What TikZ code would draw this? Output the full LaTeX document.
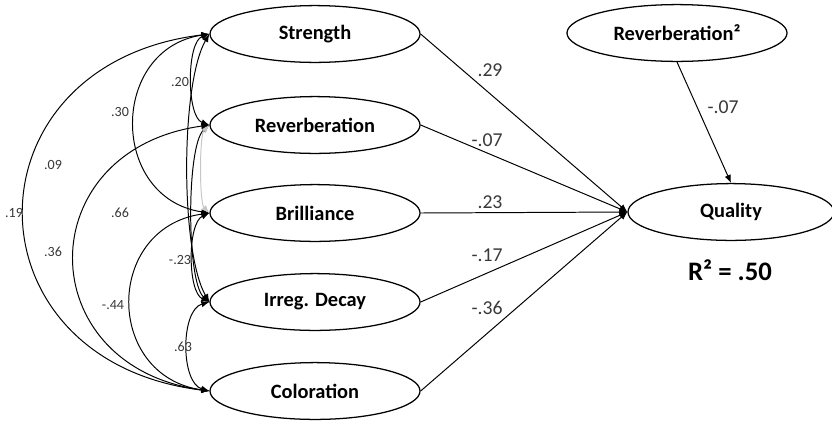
\documentclass[tikz,border=0pt]{standalone}
\usepackage{fontspec}
\setmainfont{Carlito}
\usetikzlibrary{shapes.geometric,arrows.meta}
\definecolor{numgray}{rgb}{0.22,0.22,0.22}
\begin{document}
\begin{tikzpicture}[x=0.025cm,y=-0.025cm,
  latent/.style={draw,ellipse,line width=0.9pt,inner sep=0pt,minimum width=5.25cm,minimum height=1.42cm,font=\fontsize{14.5}{16}\selectfont\bfseries},
  path/.style={line width=0.7pt,-{Latex[length=2mm,width=1.6mm]}},
  cov/.style={line width=0.7pt,{Latex[length=2mm,width=1.6mm]}-{Latex[length=2mm,width=1.6mm]}},
  coef/.style={font=\fontsize{14}{16}\selectfont,text=numgray},
  corr/.style={font=\fontsize{10}{12}\selectfont,text=numgray}]
\useasboundingbox (0,0) rectangle (832,422);

\coordinate (str) at (315,34);
\coordinate (rev) at (315,125);
\coordinate (bri) at (315,213);
\coordinate (irr) at (315,302);
\coordinate (col) at (315,391);
\coordinate (revsq) at (677,33);
\coordinate (qua) at (731,212);


\node[latent] (str) at (str){Strength};
\node[latent] (rev) at (rev){Reverberation};
\node[latent] (bri) at (bri){Brilliance};
\node[latent] (irr) at (irr){Irreg. Decay};
\node[latent] (col) at (col){Coloration};
\node[latent,minimum width=5.5cm] (revsq) at (revsq){Reverberation²};
\node[latent,minimum width=5.15cm] (qua) at (qua){Quality};
\node[font=\fontsize{19}{22}\selectfont\bfseries] (rsq) at (730,270){R² = .50};

% paths into quality
\draw[path] (str.east)--(qua.west);
\draw[path] (rev.east)--(qua.west);
\draw[path] (bri.east)--(qua.west);
\draw[path] (irr.east)--(qua.west);
\draw[path] (col.east)--(qua.west);
\draw[path] (revsq.south)--(qua.north);

\node[coef] (c1) at (490,70){.29};
\node[coef] (c2) at (487,140){-.07};
\node[coef] (c3) at (490,202){.23};
\node[coef] (c4) at (487,255){-.17};
\node[coef] (c5) at (487,308){-.36};
\node[coef] (c6) at (723,107){-.07};

% covariances
\draw[cov] (str.west) .. controls +(-247,30) and +(-247,-30) .. (col.west);
\draw[cov] (str.west) .. controls +(-100,15) and +(-100,-15) .. (bri.west);
\draw[cov] (str.west) .. controls +(-23,8) and +(-23,-8) .. (rev.west);
\draw[cov] (str.west) .. controls +(-29,50) and +(-29,-50) .. (irr.west);
\draw[cov] (rev.west) .. controls +(-23,20) and +(-23,-20) .. (irr.west);
\draw[cov,gray!45] (rev.west) .. controls +(-10,10) and +(-10,-10) .. (bri.west);
\draw[cov] (rev.west) .. controls +(-180,25) and +(-180,-25) .. (col.west);
\draw[cov] (bri.west) .. controls +(-105,15) and +(-105,-15) .. (col.west);
\draw[cov] (bri.west) .. controls +(-22,10) and +(-22,-10) .. (irr.west);
\draw[cov] (irr.west) .. controls +(-29,8) and +(-29,-8) .. (col.west);

\node[corr] (r1) at (180,82){.20};
\node[corr] (r2) at (120,112){.30};
\node[corr] (r3) at (53,165){.09};
\node[corr] (r4) at (14,213){.19};
\node[corr] (r5) at (120,213){.66};
\node[corr] (r6) at (53,252){.36};
\node[corr] (r7) at (113,305){-.44};
\node[corr] (r8) at (180,260){-.23};
\node[corr] (r9) at (183,347){.63};

\end{tikzpicture}
\end{document}
